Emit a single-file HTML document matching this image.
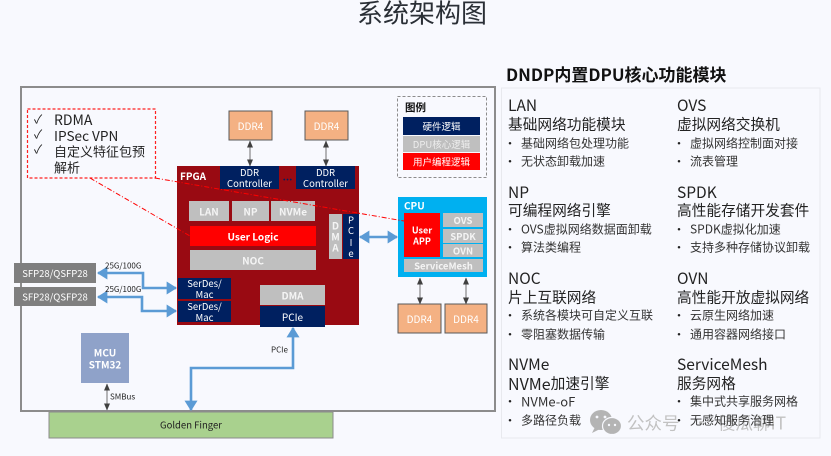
<!DOCTYPE html>
<html lang="zh"><head><meta charset="utf-8"><title>系统架构图</title>
<style>
html,body{margin:0;padding:0;background:#f8f9fe;width:831px;height:456px;overflow:hidden}
svg{display:block;font-family:"Noto Sans CJK SC","Liberation Sans",sans-serif;filter:blur(.25px)}
.w{fill:#fff;text-anchor:middle;dominant-baseline:central}
.d{fill:#222;dominant-baseline:central}
.g{fill:#f4f4f4;text-anchor:middle;dominant-baseline:central;font-weight:700}
.h{font-size:15.500px;fill:#222;dominant-baseline:central}
.c{font-size:14.700px;fill:#222;dominant-baseline:central}
.b{font-size:12px;fill:#333;dominant-baseline:central}
.p{font-size:12px;fill:#222;dominant-baseline:central;text-anchor:middle}
.blue{fill:none;stroke:#5b9bd5;stroke-width:2.6}
.thin{stroke:#707070;stroke-width:1;fill:none}
</style></head><body>
<svg width="831" height="456" viewBox="0 0 831 456" xmlns="http://www.w3.org/2000/svg">
<defs>
<marker id="bl" markerWidth="4" markerHeight="5" refX="3.6" refY="2.5" orient="auto-start-reverse" markerUnits="strokeWidth"><path d="M0 0L4 2.5L0 5z" fill="#5b9bd5"/></marker>
<marker id="gr" markerWidth="7" markerHeight="6" refX="6.5" refY="3" orient="auto-start-reverse" markerUnits="strokeWidth"><path d="M0 0L7 3L0 6z" fill="#404040"/></marker>
</defs>
<rect width="831" height="456" fill="#f8f9fe"/>
<text x="422" y="12" font-size="26" text-anchor="middle" dominant-baseline="central" fill="#2a2f36">系统架构图</text>

<!-- outer board -->
<rect x="21" y="87" width="474" height="324" fill="#f8f9fe" stroke="#8c8c8c" stroke-width="2"/>

<!-- feature call-out -->
<rect x="27.500" y="109" width="128" height="69" fill="none" stroke="#ff2020" stroke-width="1.200" stroke-dasharray="3 2"/>
<g fill="#222">
<text x="34" y="119" font-size="12" dominant-baseline="central">✓</text><text x="54" y="120" font-size="14" dominant-baseline="central">RDMA</text>
<text x="34" y="134" font-size="12" dominant-baseline="central">✓</text><text x="54" y="135" font-size="13.600" dominant-baseline="central">IPSec VPN</text>
<text x="34" y="149" font-size="12" dominant-baseline="central">✓</text><text x="54" y="151" font-size="13" dominant-baseline="central">自定义特征包预</text>
<text x="54" y="167" font-size="13" dominant-baseline="central">解析</text>
</g>

<!-- top DDR -->
<rect x="229" y="111" width="43" height="29" fill="#f4b183" stroke="#595959" stroke-width="1"/>
<rect x="305" y="111" width="43" height="29" fill="#f4b183" stroke="#595959" stroke-width="1"/>
<text x="250.500" y="125.500" font-size="10" class="w">DDR4</text>
<text x="326.500" y="125.500" font-size="10" class="w">DDR4</text>

<!-- FPGA -->
<rect x="177" y="166" width="182" height="159" fill="#990a12"/>
<text x="180" y="175.500" font-size="10" font-weight="700" fill="#fff" dominant-baseline="central">FPGA</text>
<rect x="220" y="166" width="59" height="23" fill="#002060"/>
<rect x="296" y="166" width="59" height="23" fill="#002060"/>
<text x="249.500" y="172" font-size="9.500" class="w">DDR</text><text x="249.500" y="183" font-size="9.500" class="w">Controller</text>
<text x="325.500" y="172" font-size="9.500" class="w">DDR</text><text x="325.500" y="183" font-size="9.500" class="w">Controller</text>
<text x="287.500" y="176" font-size="10" font-weight="700" text-anchor="middle" dominant-baseline="central" fill="#002060">...</text>

<g fill="#bfbfbf">
<rect x="189" y="201" width="40" height="20"/><rect x="232" y="201" width="37" height="20"/><rect x="271" y="201" width="44" height="20"/>
<rect x="190" y="250" width="126" height="20"/>
<rect x="329" y="214" width="13" height="45"/>
<rect x="260" y="285" width="65" height="20"/>
</g>
<rect x="190" y="226" width="126" height="20" fill="#ff0000"/>
<text x="209" y="211" font-size="10" class="g">LAN</text>
<text x="250.500" y="211" font-size="10" class="g">NP</text>
<text x="293" y="211" font-size="10" class="g">NVMe</text>
<text x="253" y="236" font-size="10" font-weight="700" class="w">User Logic</text>
<text x="253" y="260" font-size="10" class="g">NOC</text>
<text x="335.500" y="225" font-size="10" class="g">D</text><text x="335.500" y="236" font-size="10" class="g">M</text><text x="335.500" y="247" font-size="10" class="g">A</text>
<rect x="343" y="214" width="16" height="45" fill="#002060"/>
<text x="351" y="219.500" font-size="9.500" class="w">P</text><text x="351" y="230" font-size="9.500" class="w">C</text><text x="351" y="242" font-size="9.500" class="w">I</text><text x="351" y="253" font-size="9.500" class="w">e</text>

<rect x="178" y="278" width="53" height="21" fill="#002060"/>
<rect x="178" y="301" width="53" height="21" fill="#002060"/>
<text x="204.500" y="283" font-size="9.500" class="w">SerDes/</text><text x="204.500" y="294" font-size="9.500" class="w">Mac</text>
<text x="204.500" y="306" font-size="9.500" class="w">SerDes/</text><text x="204.500" y="317" font-size="9.500" class="w">Mac</text>
<text x="292.500" y="295" font-size="10" class="g">DMA</text>
<rect x="260" y="306" width="65" height="21" fill="#002060"/>
<text x="292.500" y="316.500" font-size="10" class="w">PCIe</text>

<!-- CPU -->
<rect x="398" y="197" width="89" height="80" fill="#00b0f0"/>
<text x="404" y="205" font-size="10" font-weight="700" fill="#fff" dominant-baseline="central">CPU</text>
<rect x="404" y="213" width="36" height="44" fill="#ff0000"/>
<text x="422" y="230" font-size="9" font-weight="700" class="w">User</text><text x="422" y="241" font-size="9" font-weight="700" class="w">APP</text>
<g fill="#bfbfbf"><rect x="443" y="213" width="40" height="14"/><rect x="443" y="229" width="40" height="14"/><rect x="443" y="244" width="40" height="13"/><rect x="404" y="259" width="79" height="13"/></g>
<text x="463" y="220" font-size="9.500" class="g">OVS</text>
<text x="463" y="236" font-size="9.500" class="g">SPDK</text>
<text x="463" y="250.500" font-size="9.500" class="g">OVN</text>
<text x="443.500" y="265.500" font-size="9.500" class="g">ServiceMesh</text>

<rect x="398" y="304" width="43" height="29" fill="#f4b183" stroke="#595959" stroke-width="1"/>
<rect x="445" y="304" width="42" height="29" fill="#f4b183" stroke="#595959" stroke-width="1"/>
<text x="419.500" y="318.500" font-size="10" class="w">DDR4</text>
<text x="466" y="318.500" font-size="10" class="w">DDR4</text>

<!-- legend -->
<rect x="397.500" y="96.500" width="89" height="81" fill="none" stroke="#8c8c8c" stroke-width="1" stroke-dasharray="3 2"/>
<text x="405" y="107.500" font-size="10.500" font-weight="700" fill="#111" dominant-baseline="central">图例</text>
<rect x="403" y="117" width="77" height="18" fill="#002060"/>
<rect x="403" y="136" width="77" height="16" fill="#bfbfbf"/>
<rect x="403" y="153" width="77" height="17" fill="#ff0000"/>
<text x="441.500" y="126" font-size="9.500" class="w">硬件逻辑</text>
<text x="441.500" y="144" font-size="9.500" text-anchor="middle" dominant-baseline="central" fill="#eeeeee">DPU核心逻辑</text>
<text x="441.500" y="161.500" font-size="9.500" class="w">用户编程逻辑</text>

<!-- SFP, MCU, finger -->
<rect x="14" y="263" width="82" height="20" fill="#7f7f7f"/>
<rect x="14" y="287" width="82" height="19" fill="#7f7f7f"/>
<text x="55" y="273" font-size="9.500" class="w">SFP28/QSFP28</text>
<text x="55" y="296.500" font-size="9.500" class="w">SFP28/QSFP28</text>
<rect x="81" y="333" width="48" height="50" fill="#8fa2c9"/>
<text x="105" y="352" font-size="10" font-weight="700" class="w">MCU</text>
<text x="105" y="364" font-size="10" font-weight="700" class="w">STM32</text>
<rect x="49" y="412" width="284" height="26" fill="#a9d18e" stroke="#8c8c8c" stroke-width="1"/>
<text x="191" y="424.500" font-size="9.500" text-anchor="middle" dominant-baseline="central" fill="#222">Golden Finger</text>

<!-- blue connectors -->
<path class="blue" d="M98 273H143V288H176" marker-start="url(#bl)" marker-end="url(#bl)"/>
<path class="blue" d="M98 297H142V311H176" marker-start="url(#bl)" marker-end="url(#bl)"/>
<path class="blue" d="M293 328V368H191V410" marker-start="url(#bl)" marker-end="url(#bl)"/>
<path class="blue" d="M360 237H397" marker-start="url(#bl)" marker-end="url(#bl)"/>

<!-- thin connectors -->
<path class="thin" d="M250 141V166" marker-start="url(#gr)" marker-end="url(#gr)"/>
<path class="thin" d="M326 141V166" marker-start="url(#gr)" marker-end="url(#gr)"/>
<path class="thin" d="M420 278V304" marker-start="url(#gr)" marker-end="url(#gr)"/>
<path class="thin" d="M466 278V304" marker-start="url(#gr)" marker-end="url(#gr)"/>
<path class="thin" d="M107 384V410" marker-start="url(#gr)" marker-end="url(#gr)"/>

<g font-size="8" fill="#222" dominant-baseline="central">
<text x="105" y="266">25G/100G</text>
<text x="105" y="289.500">25G/100G</text>
<text x="271" y="350">PCIe</text>
<text x="110" y="397">SMBus</text>
</g>

<!-- red leader lines -->
<path d="M155 178L404 221" fill="none" stroke="#ff0000" stroke-width="1" stroke-dasharray="5 2 1 2"/>
<path d="M90 178L190 236" fill="none" stroke="#ff0000" stroke-width="1" stroke-dasharray="5 2 1 2"/>

<!-- right panel -->
<text x="506" y="73.500" font-size="17" font-weight="700" fill="#111" dominant-baseline="central">DNDP内置DPU核心功能模块</text>
<rect x="501.500" y="88" width="318.500" height="350" fill="#f8f9fe" stroke="#e8e9ee" stroke-width="1"/>

<!-- watermark -->
<g fill="#b4b4b4">
<ellipse cx="601" cy="420" rx="11" ry="10"/>
<path d="M595 427L592 433L600 429z"/>
<ellipse cx="612" cy="426" rx="9.500" ry="8.500" stroke="#f8f9fe" stroke-width="1.200"/>
<circle cx="597" cy="417" r="1.400" fill="#f8f9fe"/><circle cx="605" cy="417" r="1.400" fill="#f8f9fe"/>
<circle cx="609" cy="425" r="1.200" fill="#f8f9fe"/><circle cx="615" cy="425" r="1.200" fill="#f8f9fe"/>
</g>
<g fill="#c2c2c2" font-size="17.500" dominant-baseline="central">
<text x="627" y="423">公众号</text>
<text x="692" y="423">·</text>
<text x="718" y="423">傻瓜聊IT</text>
</g>

<g>
<text x="508" y="105" class="h">LAN</text><text x="508" y="124" class="c">基础网络功能模块</text>
<text x="510" y="143" class="p">•</text><text x="521" y="143" class="b">基础网络包处理功能</text>
<text x="510" y="161" class="p">•</text><text x="521" y="161" class="b">无状态卸载加速</text>

<text x="508" y="192" class="h">NP</text><text x="508" y="210" class="c">可编程网络引擎</text>
<text x="510" y="229" class="p">•</text><text x="521" y="229" class="b">OVS虚拟网络数据面卸载</text>
<text x="510" y="247" class="p">•</text><text x="521" y="247" class="b">算法类编程</text>

<text x="508" y="278" class="h">NOC</text><text x="508" y="297" class="c">片上互联网络</text>
<text x="510" y="315" class="p">•</text><text x="521" y="315" class="b">系统各模块可自定义互联</text>
<text x="510" y="334" class="p">•</text><text x="521" y="334" class="b">零阻塞数据传输</text>

<text x="508" y="364" class="h">NVMe</text><text x="508" y="383" class="c"><tspan font-size="16">NVMe</tspan>加速引擎</text>
<text x="510" y="401" class="p">•</text><text x="521" y="401" class="b" style="font-size:13px">NVMe-oF</text>
<text x="510" y="420" class="p">•</text><text x="521" y="420" class="b">多路径负载</text>

<text x="677" y="105" class="h">OVS</text><text x="677" y="124" class="c">虚拟网络交换机</text>
<text x="679" y="143" class="p">•</text><text x="690" y="143" class="b">虚拟网络控制面对接</text>
<text x="679" y="161" class="p">•</text><text x="690" y="161" class="b">流表管理</text>

<text x="677" y="192" class="h">SPDK</text><text x="677" y="210" class="c">高性能存储开发套件</text>
<text x="679" y="229" class="p">•</text><text x="690" y="229" class="b">SPDK虚拟化加速</text>
<text x="679" y="247" class="p">•</text><text x="690" y="247" class="b">支持多种存储协议卸载</text>

<text x="677" y="278" class="h">OVN</text><text x="677" y="297" class="c">高性能开放虚拟网络</text>
<text x="679" y="315" class="p">•</text><text x="690" y="315" class="b">云原生网络加速</text>
<text x="679" y="334" class="p">•</text><text x="690" y="334" class="b">通用容器网络接口</text>

<text x="677" y="364" class="h">ServiceMesh</text><text x="677" y="383" class="c">服务网格</text>
<text x="679" y="401" class="p">•</text><text x="690" y="401" class="b">集中式共享服务网格</text>
<text x="679" y="420" class="p">•</text><text x="690" y="420" class="b">无感知服务治理</text>
</g>
</svg>
</body></html>
